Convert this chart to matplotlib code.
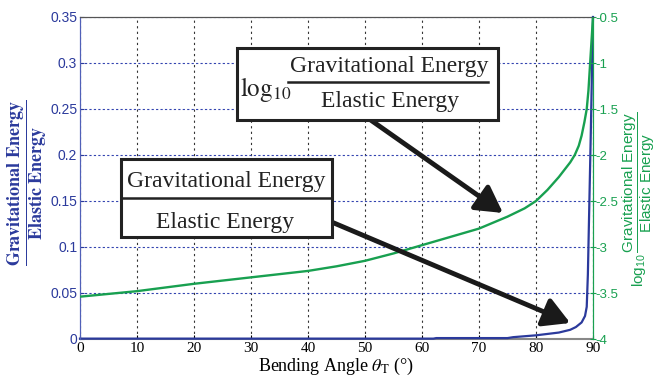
import numpy as np
import matplotlib
matplotlib.use('Agg')
from matplotlib import pyplot as plt
from matplotlib.patches import Rectangle

# bending angle (deg) vs energy ratio
theta_ratio = [0, 62, 62.5, 75, 76, 80, 84, 86, 87, 88, 88.6, 88.9, 89.1, 89.3, 89.6, 90]
ratio = [0.0004, 0.0004, 0.001, 0.001, 0.002, 0.004, 0.007, 0.010, 0.013, 0.018,
         0.025, 0.035, 0.07, 0.13, 0.22, 0.35]

theta_log = [0, 10, 20, 30, 40, 45, 50, 55, 60, 65, 70, 75, 78, 80, 82, 84, 85,
             86, 86.8, 87.5, 88, 88.5, 88.9, 89.2, 89.5, 89.7, 90]
log_ratio = [-3.54, -3.48, -3.40, -3.33, -3.26, -3.21, -3.15, -3.07, -2.98, -2.89,
             -2.80, -2.67, -2.58, -2.50, -2.38, -2.24, -2.16, -2.08, -2.0, -1.9,
             -1.79, -1.64, -1.5, -1.3, -1.0, -0.8, -0.5]

x_ticks = [0, 10, 20, 30, 40, 50, 60, 70, 80, 90]
left_ticks = [0, 0.05, 0.1, 0.15, 0.2, 0.25, 0.3, 0.35]
left_labels = ['0', '0.05', '0.1', '0.15', '0.2', '0.25', '0.3', '0.35']
right_ticks = [-4, -3.5, -3, -2.5, -2, -1.5, -1, -0.5]
right_labels = ['-4', '-3.5', '-3', '-2.5', '-2', '-1.5', '-1', '-0.5']

navy = '#2b3a9c'
green = '#18a050'

plt.rcParams['mathtext.fontset'] = 'custom'
plt.rcParams['mathtext.rm'] = 'Liberation Sans'
plt.rcParams['mathtext.it'] = 'Liberation Sans:italic'
plt.rcParams['mathtext.bf'] = 'Liberation Sans:bold'

fig = plt.figure(figsize=(6.56, 3.8), dpi=100)
ax = fig.add_axes([80/656, 41/380, 513/656, 322/380])
ax2 = ax.twinx()

ax.plot(theta_ratio, ratio, color=navy, lw=1.6, zorder=3, clip_on=False)
ax2.plot(theta_log, log_ratio, color=green, lw=1.7, zorder=3)

ax.set_xlim(0, 90)
ax.set_ylim(0, 0.35)
ax2.set_ylim(-4, -0.5)

ax.set_xticks(x_ticks)
ax.set_xticklabels([str(t) for t in x_ticks], fontfamily='Liberation Serif', fontsize=11)
ax.set_yticks(left_ticks)
ax.set_yticklabels(left_labels, fontfamily='Liberation Sans', fontsize=10, color=navy)
ax2.set_yticks(right_ticks)
ax2.set_yticklabels(right_labels, fontfamily='Liberation Sans', fontsize=9.5, color=green)

ax.tick_params(axis='x', direction='in', length=3, pad=2)
ax.tick_params(axis='y', direction='in', length=3, pad=2, color=navy)
ax2.tick_params(axis='y', direction='inout', length=4, pad=0, color=green)

ax.xaxis.grid(True, color='#333333', linestyle=(0, (2, 3)), lw=0.8)
ax.yaxis.grid(True, color='#3344b0', linestyle=(0, (2, 2)), lw=0.8)

for a in (ax, ax2):
    a.spines['top'].set_color('#555555')
    a.spines['bottom'].set_color('#888888')
    a.spines['bottom'].set_linewidth(1.5)
    a.spines['left'].set_color('#5060b8')
    a.spines['right'].set_color(green)
ax2.spines['bottom'].set_visible(False)
ax.spines['bottom'].set_zorder(2)

ax.set_xlabel(r'Bending Angle $\theta_{\mathrm{T}}$ (°)', fontfamily='Liberation Serif',
              fontsize=13, labelpad=1, math_fontfamily='stix')

fig.text(27/656, 1 - 183/380,
         r'$\dfrac{\mathbf{Gravitational\ Energy}}{\mathbf{Elastic\ Energy}}$',
         rotation=90, ha='center', va='center', color=navy, fontsize=13,
         math_fontfamily='stix')
fig.text(639/656, 1 - 199/380,
         r'$\mathrm{log}_{10}\,\dfrac{\mathrm{Gravitational\ Energy}}{\mathrm{Elastic\ Energy}}$',
         rotation=90, ha='center', va='center', color=green, fontsize=11,
         math_fontfamily='custom')

# annotation boxes
tr = ax.transData
serif = 'Liberation Serif'
ax2.add_patch(Rectangle((27.5, 0.238), 45.8, 0.078, transform=tr, fc='white',
                        ec='#222222', lw=2.2, zorder=5))
ax2.text(28.1, 0.264, r'$\mathrm{log}_{10}$', transform=tr, fontsize=18,
         math_fontfamily='stix', ha='left', va='baseline', zorder=6, color='#222222')
ax2.text(54.2, 0.2905, 'Gravitational Energy', transform=tr, fontfamily=serif,
         fontsize=17, ha='center', va='baseline', zorder=6, color='#222222')
ax2.plot([36.5, 71.6], [0.2797, 0.2797], transform=tr, color='#222222', lw=1.8, zorder=6)
ax2.text(54.4, 0.2525, 'Elastic Energy', transform=tr, fontfamily=serif,
         fontsize=17, ha='center', va='baseline', zorder=6, color='#222222')

ax2.add_patch(Rectangle((7.14, 0.1109), 37.06, 0.0848, transform=tr, fc='white',
                        ec='#222222', lw=2.2, zorder=5))
ax2.text(25.6, 0.1655, 'Gravitational Energy', transform=tr, fontfamily=serif,
         fontsize=17, ha='center', va='baseline', zorder=6, color='#222222')
ax2.plot([7.5, 43.9], [0.1529, 0.1529], transform=tr, color='#222222', lw=1.8, zorder=6)
ax2.text(25.4, 0.1203, 'Elastic Energy', transform=tr, fontfamily=serif,
         fontsize=17, ha='center', va='baseline', zorder=6, color='#222222')

arrow = dict(arrowstyle='-|>,head_length=0.8,head_width=0.45', lw=3.5,
             color='#1a1a1a', mutation_scale=20, shrinkA=0, shrinkB=0)
ax2.annotate('', xy=(74.2, 0.137), xytext=(51.0, 0.238), xycoords=tr,
             textcoords=tr, arrowprops=arrow, zorder=4)
ax2.annotate('', xy=(86.0, 0.0174), xytext=(44.2, 0.127), xycoords=tr,
             textcoords=tr, arrowprops=arrow, zorder=4)

ax2.set_ylim(-4, -0.5)
ax.set_xlim(0, 90)

fig.savefig('out.png', dpi=100)
